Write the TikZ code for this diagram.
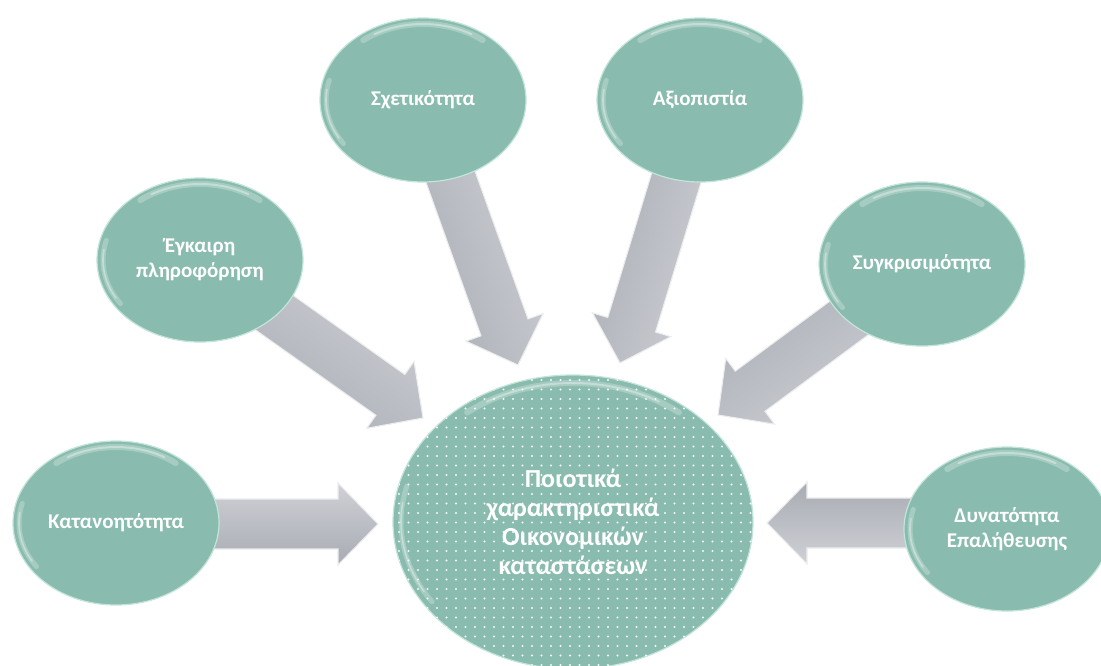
\documentclass[tikz,border=0pt]{standalone}
\usepackage{fontspec}
\setmainfont{Carlito}
\usetikzlibrary{calc,shapes.geometric,patterns.meta}
\pgfdeclarelayer{background}
\pgfsetlayers{background,main}

\definecolor{bubble}{HTML}{89BCAE}
\definecolor{bubblerim}{HTML}{C2E4DA}
\definecolor{silverlight}{HTML}{CFD1D6}
\definecolor{silvermid}{HTML}{B3B6BD}
\definecolor{silverdark}{HTML}{A8ABB3}

\tikzset{
  gloss/.style 2 args={path picture={
    \draw[white, opacity=.25, line width=6pt, line cap=round]
      ($(path picture bounding box.center)+(232:#1 and #2)$)
      arc[start angle=232, end angle=308, x radius=#1, y radius=#2];
    \draw[white, opacity=.35, line width=2pt, line cap=round]
      ($(path picture bounding box.center)+(240:#1 and #2)$)
      arc[start angle=240, end angle=300, x radius=#1, y radius=#2];
    \draw[white, opacity=.25, line width=5pt, line cap=round]
      ($(path picture bounding box.center)+(145:#1 and #2)$)
      arc[start angle=145, end angle=195, x radius=#1, y radius=#2];
    \draw[white, opacity=.35, line width=1.6pt, line cap=round]
      ($(path picture bounding box.center)+(150:#1 and #2)$)
      arc[start angle=150, end angle=188, x radius=#1, y radius=#2];
  }},
  bubble/.style={ellipse, inner sep=0pt, fill=bubble, draw=bubblerim,
    line width=1.2pt, text=white, align=center,
    font=\bfseries\fontsize{21}{25}\selectfont,
    minimum width=206pt, minimum height=164pt, gloss={97}{76}},
  hub/.style={bubble, minimum width=360pt, minimum height=294pt,
    font=\bfseries\fontsize{26}{29}\selectfont, gloss={172}{139},
    postaction={pattern={Dots[radius=1.05pt, distance=9.5pt]},
      pattern color=white!92!bubble}},
  arrowbody/.style={top color=silverlight, middle color=silvermid,
    bottom color=silverdark, draw=white!75!silvermid, line width=1.1pt,
    line join=miter},
}

% broad silver block arrow from #1 (tail) to #2 (tip)
\newcommand\silverarrow[2]{%
  \pgfmathanglebetweenpoints{\pgfpointanchor{#1}{center}}{\pgfpointanchor{#2}{center}}%
  \edef\arrang{\pgfmathresult}%
  \coordinate (ah) at ($(#2)!40pt!(#1)$);
  \shade[arrowbody, shading angle=\arrang]
    (#2) -- ($(ah)!41pt!90:(#2)$) -- ($(ah)!25pt!90:(#2)$)
    -- ($(#1)!25pt!90:(#2)$) -- ($(#1)!25pt!-90:(#2)$)
    -- ($(ah)!25pt!-90:(#2)$) -- ($(ah)!41pt!-90:(#2)$) -- cycle;
}

\begin{document}
\begin{tikzpicture}[x=1pt,y=-1pt]
\useasboundingbox (0,0) rectangle (1101,665);

% central topic
\node[hub] (cen) at (573,522)
  {Ποιοτικά\\χαρακτηριστικά\\Οικονομικών\\καταστάσεων};

% surrounding characteristics
\node[bubble] (kat) at (116,523) {Κατανοητότητα};
\node[bubble] (egk) at (200,260) {Έγκαιρη\\πληροφόρηση};
\node[bubble] (sxe) at (423,100) {Σχετικότητα};
\node[bubble] (axi) at (700,100) {Αξιοπιστία};
\node[bubble] (syg) at (922,264) {Συγκρισιμότητα};
\node[bubble] (dyn) at (1007,529) {Δυνατότητα\\Επαλήθευσης};

% arrow tips, short of the central ellipse
\coordinate (t1) at (378,524);
\coordinate (t2) at (423,418);
\coordinate (t3) at (518,365);
\coordinate (t4) at (620,363);
\coordinate (t5) at (718,415);
\coordinate (t6) at (767,523);
\coordinate (s1) at (kat.center |- t1);
\coordinate (s6) at (dyn.center |- t6);

\begin{pgfonlayer}{background}
  \silverarrow{s1}{t1}
  \silverarrow{egk}{t2}
  \silverarrow{sxe}{t3}
  \silverarrow{axi}{t4}
  \silverarrow{syg}{t5}
  \silverarrow{s6}{t6}
\end{pgfonlayer}
\end{tikzpicture}
\end{document}
